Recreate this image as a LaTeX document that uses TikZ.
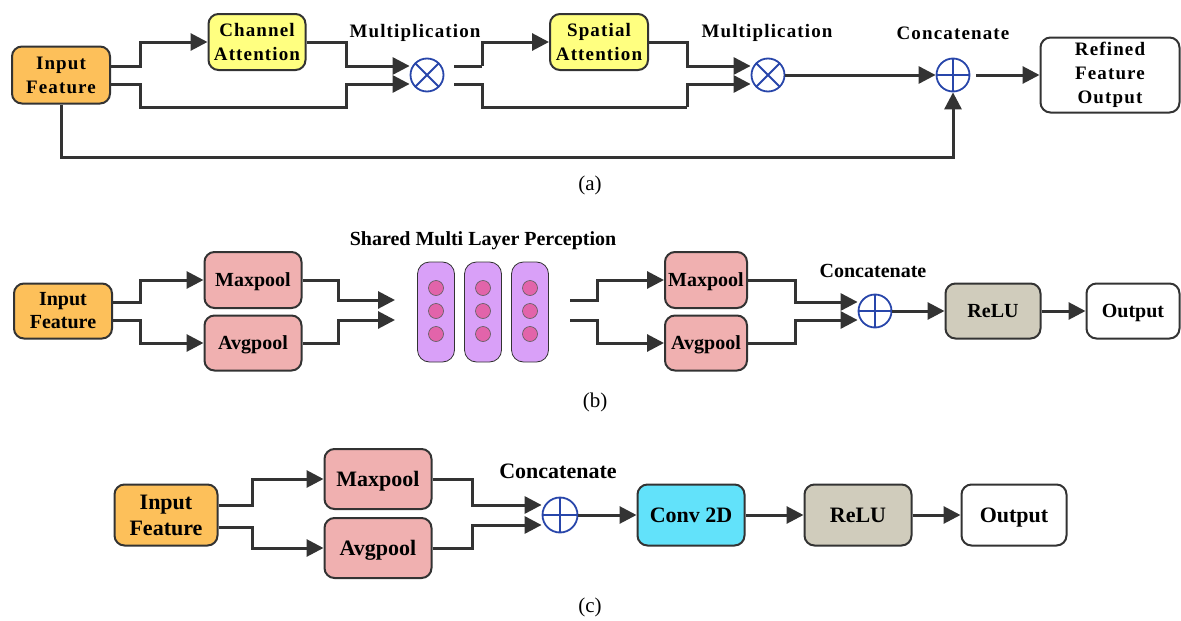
\documentclass[tikz,border=0pt]{standalone}
\usepackage{fontspec}
\setmainfont{Liberation Serif}
\newfontfamily\spacedbold[LetterSpace=6]{Liberation Serif}
\usetikzlibrary{arrows.meta,calc}
\definecolor{orangeF}{RGB}{253,192,90}
\definecolor{yellowF}{RGB}{255,255,128}
\definecolor{pinkF}{RGB}{240,176,176}
\definecolor{purpleF}{RGB}{217,160,248}
\definecolor{dotF}{RGB}{226,100,170}
\definecolor{cyanF}{RGB}{98,226,250}
\definecolor{greyF}{RGB}{208,204,188}
\definecolor{blueC}{RGB}{40,70,170}
\definecolor{lineC}{RGB}{51,51,51}
\newcommand\lblA{\spacedbold\fontsize{19}{24}\selectfont\bfseries}
\newcommand\lblB{\fontsize{20}{23}\selectfont\bfseries}
\newcommand\lblC{\fontsize{22}{26}\selectfont\bfseries}
\newcommand\capfont{\fontsize{21}{23}\selectfont}
\tikzset{
  box/.style={draw=lineC, line width=2pt, rounded corners=10pt, align=center, inner sep=2pt},
  one/.style={text depth=0pt},
  conn/.style={draw=lineC, line width=3pt},
  arr/.style={conn, -{Triangle[length=17pt,width=17pt]}},
  otimes/.style={circle, draw=blueC, line width=1.8pt, minimum size=33pt, inner sep=0pt,
    path picture={\draw[blueC,line width=1.8pt] (path picture bounding box.north west) -- (path picture bounding box.south east) (path picture bounding box.north east) -- (path picture bounding box.south west);}},
  oplus/.style={circle, draw=blueC, line width=1.8pt, minimum size=33pt, inner sep=0pt,
    path picture={\draw[blueC,line width=1.8pt] (path picture bounding box.north) -- (path picture bounding box.south) (path picture bounding box.east) -- (path picture bounding box.west);}},
  bar/.style={draw=lineC, line width=0.8pt, fill=purpleF, rounded corners=12pt, minimum width=37pt, minimum height=100pt},
  dot/.style={circle, draw=lineC!80, line width=0.6pt, fill=dotF, minimum size=15pt, inner sep=0pt},
  lbl/.style={inner sep=1pt}
}
\begin{document}
\begin{tikzpicture}[x=1pt,y=-1pt]
\useasboundingbox[fill=white] (0,0) rectangle (1181,621);
% ---------------- (a)
\node[box, fill=orangeF, minimum width=98pt, minimum height=57pt, font=\lblA] (inA) at (61,75) {Input\\Feature};
\node[box, fill=yellowF, minimum width=97pt, minimum height=56pt, font=\lblA] (ca) at (257,42) {Channel\\Attention};
\node[otimes] (m1) at (427,75) {};
\node[box, fill=yellowF, minimum width=98pt, minimum height=56pt, font=\lblA] (sa) at (599,42) {Spatial\\Attention};
\node[otimes] (m2) at (768,75) {};
\node[oplus] (cA) at (953,75) {};
\node[box, fill=white, minimum width=139pt, minimum height=75pt, font=\lblA] (refA) at (1110,75) {Refined\\Feature\\Output};
\node[lbl, font=\lblA] (mlA1) at (415,33) {Multiplication};
\node[lbl, font=\lblA] (mlA2) at (767,33) {Multiplication};
\node[lbl, font=\lblA] (ccA) at (953,33) {Concatenate};
\node[lbl, font=\capfont] (capA) at (590,185) {(a)};
\draw[arr] ([yshift=9pt]inA.east) -- (140,66) |- (ca.west);
\draw[arr] ([yshift=-9pt]inA.east) -- (140,84) -- (140,107) -- (346,107) |- ([yshift=-9pt]m1.west);
\draw[arr] (ca.east) -- (346,42) |- ([yshift=9pt]m1.west);
\draw[conn] ([yshift=9pt,xshift=10pt]m1.east) -- (482,66);
\draw[arr] (482,66) |- (sa.west);
\draw[conn] ([yshift=-9pt,xshift=10pt]m1.east) -- (482,84) -- (482,107) -- (687,107);
\draw[arr] (687,107) |- ([yshift=-9pt]m2.west);
\draw[arr] (sa.east) -- (687,42) |- ([yshift=9pt]m2.west);
\draw[arr] (m2.east) -- (cA.west);
\draw[arr] ([xshift=6pt]cA.east) -- (refA.west);
\draw[arr] (inA.south) -- (61,157) -| (cA.south);
% ---------------- (b)
\node[box, fill=orangeF, minimum width=98pt, minimum height=55pt, font=\lblB] (inB) at (63,311) {Input\\Feature};
\node[box, one, fill=pinkF, minimum width=97pt, minimum height=56pt, font=\lblB] (mpB) at (253,280) {Maxpool};
\node[box, one, fill=pinkF, minimum width=97pt, minimum height=55pt, font=\lblB] (apB) at (253,343) {Avgpool};
\node[bar] (b1) at (436,312) {};
\node[bar] (b2) at (483,312) {};
\node[bar] (b3) at (530,312) {};
\foreach \xx/\nn in {436/1,483/2,530/3}{
  \foreach \yy/\mm in {288/1,311/2,334/3}{
    \node[dot] (d\nn\mm) at (\xx,\yy) {};
  }
}
\node[lbl, font=\lblB] (mlpL) at (483,241) {Shared Multi Layer Perception};
\coordinate (mlpIn1) at (395,300);
\coordinate (mlpIn2) at (395,320);
\coordinate (mlpOut1) at (570,300);
\coordinate (mlpOut2) at (570,320);
\node[box, one, fill=pinkF, minimum width=82pt, minimum height=56pt, font=\lblB] (mp2) at (706,280) {Maxpool};
\node[box, one, fill=pinkF, minimum width=82pt, minimum height=55pt, font=\lblB] (ap2) at (706,343) {Avgpool};
\node[oplus] (cB) at (875,311) {};
\node[lbl, font=\lblB] (ccB) at (873,271) {Concatenate};
\node[box, one, fill=greyF, minimum width=95pt, minimum height=55pt, font=\lblB] (reB) at (993,311) {ReLU};
\node[box, one, fill=white, minimum width=93pt, minimum height=55pt, font=\lblB] (outB) at (1133,311) {Output};
\node[lbl, font=\capfont] (capB) at (595,402) {(b)};
\draw[arr] ([yshift=9pt]inB.east) -- (140,302) |- (mpB.west);
\draw[arr] ([yshift=-9pt]inB.east) -- (140,320) |- (apB.west);
\draw[arr] (mpB.east) -- (338,280) |- (mlpIn1);
\draw[arr] (apB.east) -- (338,343) |- (mlpIn2);
\draw[arr] (mlpOut1) -- (597,300) |- (mp2.west);
\draw[arr] (mlpOut2) -- (597,320) |- (ap2.west);
\draw[arr] (mp2.east) -- (795,280) |- ([yshift=9pt]cB.west);
\draw[arr] (ap2.east) -- (795,343) |- ([yshift=-9pt]cB.west);
\draw[arr] (cB.east) -- (reB.west);
\draw[arr] (reB.east) -- (outB.west);
% ---------------- (c)
\node[box, fill=orangeF, minimum width=103pt, minimum height=61pt, font=\lblC] (inC) at (166,515) {Input\\Feature};
\node[box, one, fill=pinkF, minimum width=107pt, minimum height=60pt, font=\lblC] (mpC) at (378,479) {Maxpool};
\node[box, one, fill=pinkF, minimum width=107pt, minimum height=60pt, font=\lblC] (apC) at (378,548) {Avgpool};
\node[oplus, minimum size=35pt] (cC) at (560,515) {};
\node[lbl, font=\lblC] (ccC) at (558,471) {Concatenate};
\node[box, one, fill=cyanF, minimum width=107pt, minimum height=61pt, font=\lblC] (conv) at (691,515) {Conv 2D};
\node[box, one, fill=greyF, minimum width=107pt, minimum height=61pt, font=\lblC] (reC) at (858,515) {ReLU};
\node[box, one, fill=white, minimum width=105pt, minimum height=61pt, font=\lblC] (outC) at (1014,515) {Output};
\node[lbl, font=\capfont] (capC) at (590,607) {(c)};
\draw[arr] ([yshift=10pt]inC.east) -- (252,505) |- (mpC.west);
\draw[arr] ([yshift=-12pt]inC.east) -- (252,527) |- (apC.west);
\draw[arr] (mpC.east) -- (472,479) |- ([yshift=10pt]cC.west);
\draw[arr] (apC.east) -- (472,548) |- ([yshift=-10pt]cC.west);
\draw[arr] (cC.east) -- (conv.west);
\draw[arr] (conv.east) -- (reC.west);
\draw[arr] (reC.east) -- (outC.west);
\end{tikzpicture}
\end{document}
